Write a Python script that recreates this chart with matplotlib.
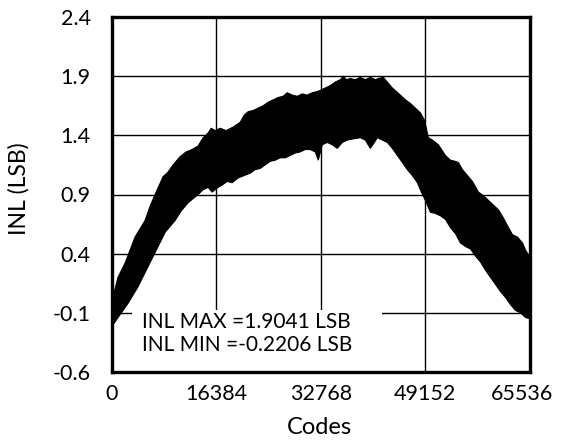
import matplotlib
matplotlib.use("Agg")
import matplotlib.pyplot as plt
import matplotlib.transforms as mtransforms
from matplotlib.patches import Rectangle

# Upper envelope of the INL band (codes, LSB)
upper_codes = [0, 550, 1020, 2120, 3685, 5253, 6037, 6821, 8075, 8859,
               9643, 10741, 11682, 12622, 13563, 14347, 15131, 15602, 16229, 17013,
               17954, 19051, 20149, 20776, 21403, 22187, 22971, 23755, 24539, 25323,
               26107, 26891, 27518, 28302, 29086, 29870, 30654, 31438, 32222, 32693,
               33477, 34261, 35045, 35829, 36299, 36770, 37397, 38181, 38965, 39749,
               40533, 41317, 41787, 42571, 43198, 43982, 44610, 45237, 46021, 46805,
               47589, 48373, 49000, 49627, 50254, 51195, 52293, 53077, 53861, 54331,
               54958, 55742, 56526, 57467, 58251, 59035, 59819, 60603, 61387, 62171,
               62798, 63582, 64366, 64837, 65535]
upper_vals = [0.05, 0.10, 0.20, 0.32, 0.54, 0.68, 0.80, 0.90, 1.05, 1.09,
              1.15, 1.22, 1.26, 1.28, 1.31, 1.38, 1.42, 1.46, 1.44, 1.46,
              1.44, 1.47, 1.51, 1.57, 1.60, 1.61, 1.63, 1.65, 1.68, 1.70,
              1.72, 1.73, 1.76, 1.74, 1.73, 1.75, 1.74, 1.76, 1.77, 1.78,
              1.80, 1.82, 1.85, 1.87, 1.90, 1.87, 1.88, 1.87, 1.89, 1.87,
              1.89, 1.87, 1.88, 1.89, 1.85, 1.80, 1.77, 1.74, 1.70, 1.67,
              1.63, 1.59, 1.53, 1.38, 1.36, 1.32, 1.23, 1.19, 1.18, 1.17,
              1.11, 1.06, 1.01, 0.92, 0.89, 0.85, 0.81, 0.77, 0.70, 0.62,
              0.56, 0.54, 0.49, 0.43, 0.37]

# Lower envelope of the INL band
lower_codes = [0, 1020, 2587, 4155, 5723, 7291, 8389, 9957, 10900, 11995,
               13563, 14347, 15131, 15759, 16543, 17327, 18111, 18895, 19835, 20776,
               21717, 22501, 23285, 24069, 24853, 25637, 26421, 27205, 27989, 28774,
               29558, 30342, 31126, 31910, 32380, 33007, 33791, 34575, 35359, 36143,
               36927, 37868, 38965, 39749, 40533, 41160, 41630, 42414, 43198, 43982,
               44766, 45550, 46334, 47118, 47902, 48530, 49157, 49941, 50725, 51509,
               52293, 53077, 53861, 54645, 55429, 56213, 56997, 57781, 58565, 59349,
               60133, 60917, 61701, 62485, 63269, 64053, 64837, 65535]
lower_vals = [-0.22, -0.14, -0.02, 0.12, 0.29, 0.46, 0.58, 0.68, 0.76, 0.83,
              0.90, 0.94, 0.96, 0.92, 0.955, 0.98, 1.01, 1.00, 1.04, 1.06,
              1.08, 1.11, 1.12, 1.15, 1.18, 1.19, 1.21, 1.21, 1.23, 1.25,
              1.26, 1.28, 1.28, 1.26, 1.19, 1.32, 1.34, 1.32, 1.29, 1.34,
              1.36, 1.37, 1.38, 1.36, 1.29, 1.34, 1.38, 1.36, 1.34, 1.29,
              1.23, 1.17, 1.11, 1.06, 1.00, 0.92, 0.85, 0.75, 0.74, 0.72,
              0.69, 0.62, 0.57, 0.49, 0.46, 0.44, 0.38, 0.33, 0.26, 0.20,
              0.14, 0.08, 0.03, -0.03, -0.08, -0.10, -0.14, -0.15]

x_ticks = [0, 16384, 32768, 49152, 65536]
y_ticks = [-0.6, -0.1, 0.4, 0.9, 1.4, 1.9, 2.4]
annotation = "INL MAX =1.9041 LSB\nINL MIN =-0.2206 LSB"

plt.rcParams['font.family'] = ['Lato', 'DejaVu Sans']

fig = plt.figure(figsize=(5.62, 4.42), dpi=100)
ax = fig.add_axes([111.5 / 562, 1 - 372 / 442, 418.5 / 562, 355 / 442])

poly_x = upper_codes + lower_codes[::-1]
poly_y = upper_vals + lower_vals[::-1]
ax.fill(poly_x, poly_y, facecolor='black', edgecolor='black', linewidth=0.8, zorder=2)

ax.set_xlim(0, 65536)
ax.set_ylim(-0.6, 2.4)
ax.set_xticks(x_ticks)
ax.set_yticks(y_ticks)
ax.set_xticklabels([str(v) for v in x_ticks])
ax.set_yticklabels([f"{v:.1f}" for v in y_ticks])
ax.tick_params(axis='both', length=0, labelsize=15.5, colors='black')
ax.tick_params(axis='y', pad=15)
ax.tick_params(axis='x', pad=9)
ax.grid(True, color='black', linewidth=1.0, zorder=1)
ax.set_axisbelow(True)

for s in ax.spines.values():
    s.set_linewidth(2.4)
    s.set_color('black')
    s.set_zorder(10)

# shift last x tick label slightly left as in reference
lbls = ax.get_xticklabels()
offset = mtransforms.ScaledTranslation(-8 / 100, 0, fig.dpi_scale_trans)
lbls[-1].set_transform(lbls[-1].get_transform() + offset)

ax.add_patch(Rectangle((0.049, 0.0), 0.597, 0.175, transform=ax.transAxes,
                       facecolor='white', edgecolor='none', zorder=5))
ax.text(0.072, 0.108, annotation, transform=ax.transAxes, fontsize=15,
        va='center', ha='left', linespacing=1.2, zorder=6, color='black')

fig.text(19 / 562, 1 - 189 / 442, "INL (LSB)", rotation=90, fontsize=16.5,
         ha='center', va='center')
fig.text(319 / 562, 1 - 428 / 442, "Codes", fontsize=17, ha='center', va='center')

fig.savefig("out.png", dpi=100)
